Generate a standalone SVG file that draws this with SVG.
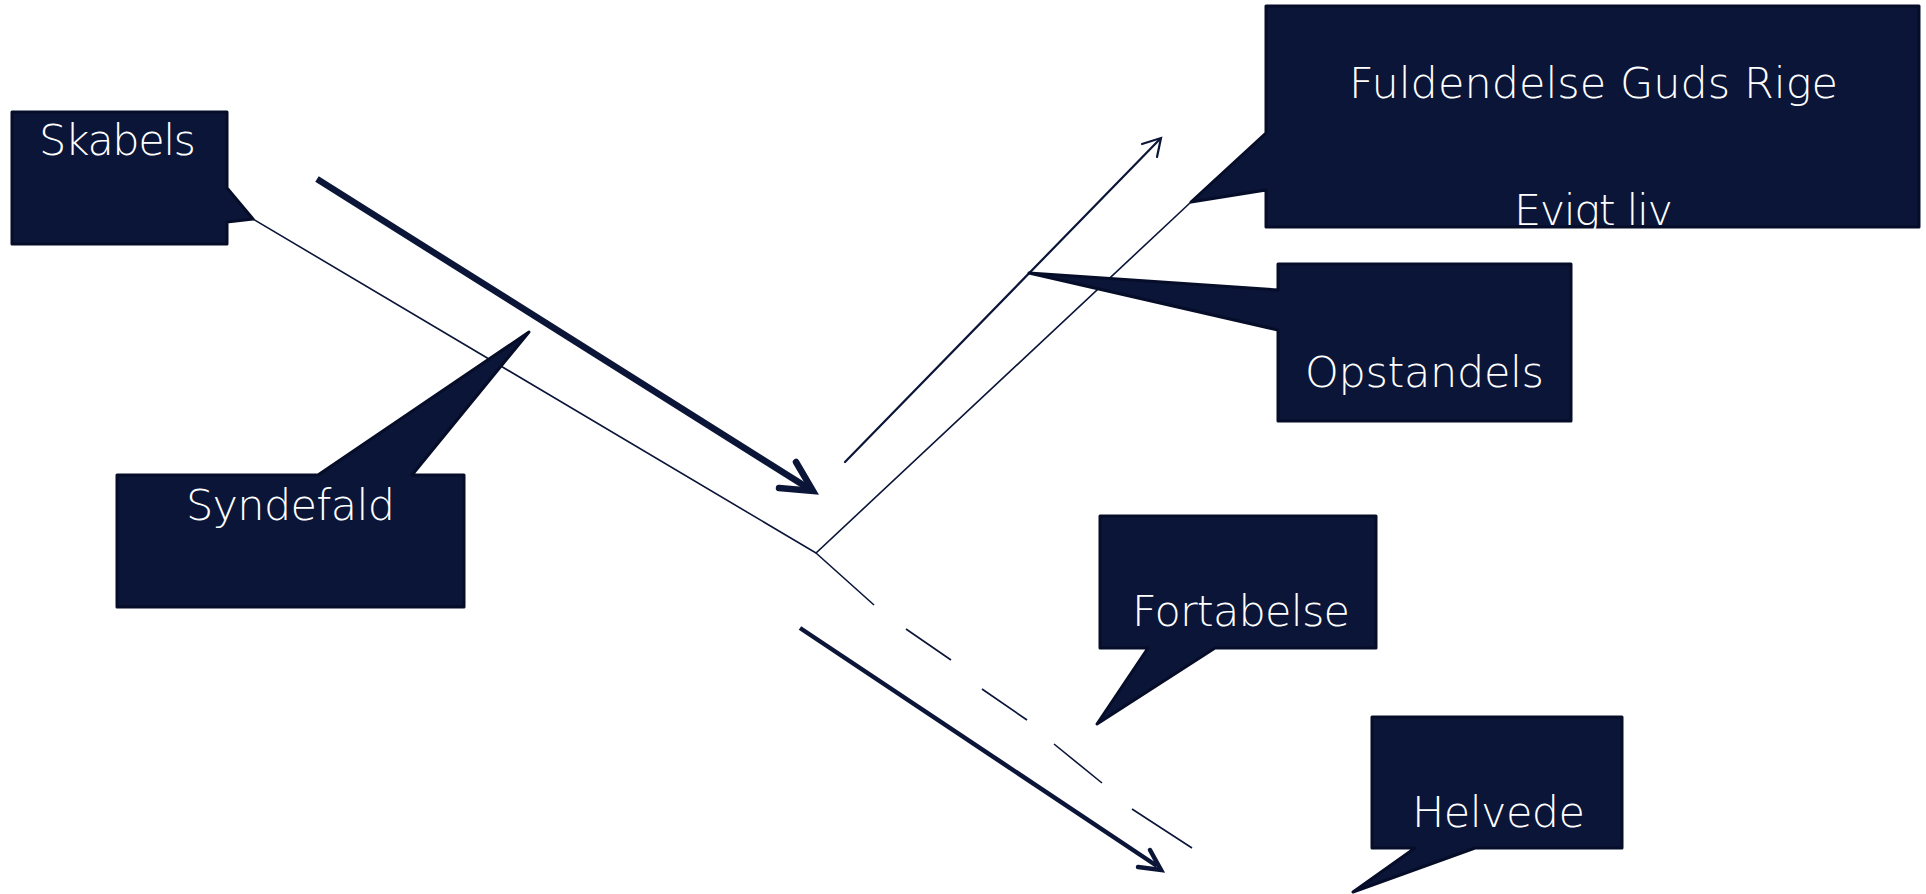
<svg xmlns="http://www.w3.org/2000/svg" width="1926" height="894" viewBox="0 0 1926 894">
<style>
.box{fill:#0b1538;stroke:#060d28;stroke-width:3;stroke-linejoin:round}
.lbl{fill:#ffffff;font-family:"DejaVu Sans","Liberation Sans",sans-serif;font-size:43px;font-weight:200}
.thin{fill:none;stroke:#0b1538;stroke-width:1.6;stroke-linecap:butt}
.mid{fill:none;stroke:#0b1538;stroke-width:2.2;stroke-linecap:round;stroke-linejoin:round}
.thick{fill:none;stroke:#0b1538;stroke-width:6.5;stroke-linecap:butt;stroke-linejoin:miter}
.thick2{fill:none;stroke:#0b1538;stroke-width:4.5;stroke-linecap:butt;stroke-linejoin:miter}
.head{fill:none;stroke:#0b1538;stroke-linecap:round;stroke-linejoin:miter}
</style>
<rect width="1926" height="894" fill="#ffffff"/>
<g id="connectors">
<path class="thin" d="M253,219 L816,553 L1191,202"/>
<path class="thin" d="M816,553 L874,605 M906,629 L951,660 M982,689 L1027,720 M1054,744 L1102,783 M1132,809 L1192,848"/>
<path class="thick" d="M317,179 L808,488"/>
<path class="head" stroke-width="6.5" d="M796,462 L813,491 L779,488"/>
<path class="mid" d="M845,462 L1160,139"/>
<path class="head" stroke-width="2.2" d="M1142,144 L1161,138 L1157,157"/>
<path class="thick2" d="M800,628 L1157,866"/>
<path class="head" stroke-width="4.5" d="M1150,850 L1161,870 L1138,867"/>
</g>
<g id="node-skabels">
<path class="box" d="M12,112 H227 V188 L253,219 L227,222 V244 H12 Z"/>
<text class="lbl" x="39" y="155" textLength="157">Skabels</text>
</g>
<g id="node-syndefald">
<path class="box" d="M117,475 H318 L529,332 L412,475 H464 V607 H117 Z"/>
<text class="lbl" x="186" y="520" textLength="209">Syndefald</text>
</g>
<g id="node-fuldendelse">
<path class="box" d="M1266,6 H1919 V227 H1266 V190 L1191,202 L1266,133 Z"/>
<text class="lbl" x="1349" y="98" textLength="489">Fuldendelse Guds Rige</text>
<text class="lbl" x="1514" y="225" textLength="159">Evigt liv</text>
</g>
<g id="node-opstandels">
<path class="box" d="M1278,264 H1571 V421 H1278 V330 L1029,273 L1278,290 Z"/>
<text class="lbl" x="1305" y="387" textLength="239">Opstandels</text>
</g>
<g id="node-fortabelse">
<path class="box" d="M1100,516 H1376 V648 H1215 L1097,724 L1148,648 H1100 Z"/>
<text class="lbl" x="1132" y="626" textLength="218">Fortabelse</text>
</g>
<g id="node-helvede">
<path class="box" d="M1372,717 H1622 V848 H1475 L1353,892 L1415,848 H1372 Z"/>
<text class="lbl" x="1412" y="827" textLength="173">Helvede</text>
</g>
</svg>
